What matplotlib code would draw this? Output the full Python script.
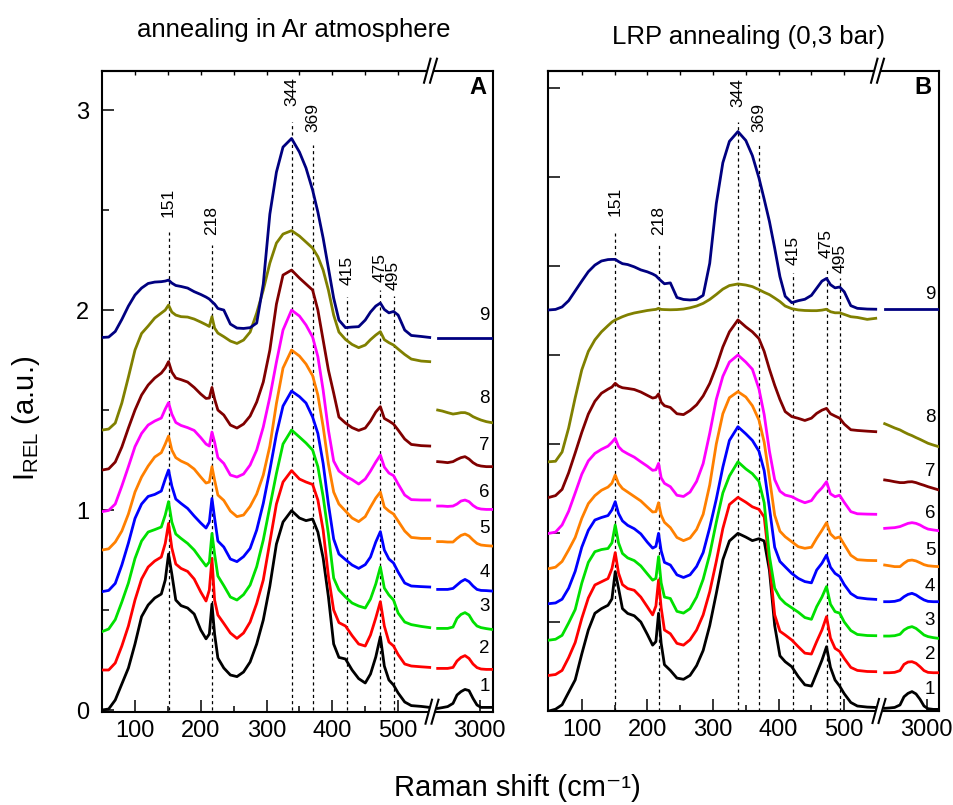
import numpy as np
import matplotlib
matplotlib.use("Agg")
import matplotlib.pyplot as plt
from matplotlib.lines import Line2D
from matplotlib.patches import Polygon
from matplotlib.ticker import NullLocator

# --- figure / style ---
FIG_W, FIG_H, DPI = 954, 805, 100
FONT = ["Liberation Sans", "DejaVu Sans"]

plt.rcParams.update({
    "font.family": FONT,
    "font.size": 17,
    "mathtext.fontset": "custom",
    "mathtext.rm": "Liberation Sans",
    "mathtext.it": "Liberation Sans:italic",
    "axes.linewidth": 1.5,
    "axes.unicode_minus": True,
})

COLORS = ["#000000", "#FF0000", "#00E000", "#0000FF", "#FF8000",
          "#FF00FF", "#800000", "#808000", "#000080"]

# --- data ---
# low-wavenumber part, Raman shift in cm-1
SHIFT = [50, 60, 70, 80, 90, 100, 110, 120, 130, 140, 146, 151, 156, 162, 170,
         180, 190, 200, 208, 213, 217, 221, 226, 235, 245, 255, 265, 275, 285,
         295, 305, 315, 325, 338, 350, 360, 370, 378, 386, 394, 402, 410, 420,
         430, 440, 450, 458, 466, 473, 479, 486, 493, 500, 510, 520, 535, 548]
# C-H region
SHIFT_CH = [2685, 2720, 2760, 2800, 2830, 2860, 2890, 2920, 2950, 2980, 3010, 3050, 3090]

# panel A: annealing in Ar
A1 = [0.0, 0.005, 0.05, 0.13, 0.21, 0.33, 0.467, 0.525, 0.56, 0.58, 0.65, 0.78, 0.68, 0.55, 0.522,
      0.51, 0.48, 0.40, 0.356, 0.38, 0.53, 0.38, 0.26, 0.21, 0.175, 0.167, 0.19, 0.24, 0.33,
      0.45, 0.62, 0.83, 0.94, 0.997, 0.96, 0.947, 0.955, 0.89, 0.76, 0.567, 0.33, 0.263, 0.255,
      0.20, 0.157, 0.135, 0.18, 0.265, 0.367, 0.22, 0.15, 0.125, 0.085, 0.04, 0.022, 0.018, 0.013]
A2 = [0.20, 0.20, 0.235, 0.32, 0.42, 0.55, 0.655, 0.715, 0.745, 0.765, 0.833, 0.933, 0.81, 0.73, 0.708,
      0.693, 0.655, 0.59, 0.545, 0.60, 0.758, 0.55, 0.475, 0.433, 0.385, 0.358, 0.385, 0.44, 0.533,
      0.65, 0.84, 1.03, 1.14, 1.197, 1.155, 1.14, 1.128, 1.05, 0.90, 0.67, 0.50, 0.437, 0.42,
      0.372, 0.33, 0.32, 0.375, 0.46, 0.542, 0.42, 0.34, 0.32, 0.277, 0.23, 0.22, 0.216, 0.213]
A3 = [0.392, 0.405, 0.452, 0.54, 0.635, 0.758, 0.845, 0.89, 0.902, 0.915, 0.975, 1.042, 0.94, 0.88, 0.858,
      0.833, 0.80, 0.755, 0.72, 0.74, 0.883, 0.78, 0.67, 0.622, 0.565, 0.55, 0.577, 0.625, 0.717,
      0.85, 1.017, 1.183, 1.33, 1.40, 1.365, 1.335, 1.30, 1.217, 1.067, 0.88, 0.66, 0.60, 0.565,
      0.535, 0.52, 0.51, 0.555, 0.63, 0.715, 0.61, 0.575, 0.55, 0.485, 0.44, 0.427, 0.418, 0.412]
A4 = [0.592, 0.598, 0.633, 0.725, 0.835, 0.958, 1.03, 1.068, 1.078, 1.095, 1.155, 1.20, 1.12, 1.055, 1.033,
      1.008, 0.97, 0.935, 0.91, 0.94, 1.058, 0.96, 0.845, 0.815, 0.755, 0.742, 0.767, 0.808, 0.90,
      1.033, 1.20, 1.38, 1.52, 1.595, 1.567, 1.535, 1.465, 1.383, 1.233, 1.03, 0.855, 0.78, 0.752,
      0.725, 0.708, 0.727, 0.765, 0.84, 0.892, 0.80, 0.755, 0.735, 0.69, 0.635, 0.62, 0.617, 0.615]
A5 = [0.80, 0.806, 0.84, 0.895, 0.98, 1.09, 1.165, 1.22, 1.265, 1.287, 1.33, 1.37, 1.30, 1.262, 1.245,
      1.23, 1.205, 1.165, 1.135, 1.14, 1.217, 1.15, 1.075, 1.048, 0.995, 0.967, 0.975, 1.018, 1.08,
      1.175, 1.32, 1.533, 1.71, 1.80, 1.77, 1.73, 1.672, 1.575, 1.417, 1.23, 1.09, 1.03, 0.995,
      0.96, 0.942, 0.967, 1.015, 1.06, 1.09, 1.015, 0.995, 0.98, 0.945, 0.895, 0.863, 0.858, 0.858]
A6 = [0.992, 0.998, 1.03, 1.12, 1.217, 1.317, 1.383, 1.425, 1.445, 1.46, 1.505, 1.537, 1.48, 1.438, 1.423,
      1.412, 1.398, 1.362, 1.33, 1.32, 1.39, 1.34, 1.262, 1.233, 1.175, 1.165, 1.18, 1.225, 1.30,
      1.415, 1.565, 1.74, 1.90, 2.0, 1.97, 1.925, 1.865, 1.767, 1.60, 1.40, 1.245, 1.195, 1.17,
      1.152, 1.13, 1.155, 1.195, 1.24, 1.275, 1.215, 1.185, 1.172, 1.13, 1.075, 1.052, 1.05, 1.05]
A7 = [1.20, 1.206, 1.24, 1.315, 1.41, 1.50, 1.575, 1.625, 1.66, 1.685, 1.71, 1.742, 1.69, 1.66, 1.652,
      1.64, 1.613, 1.58, 1.558, 1.56, 1.613, 1.555, 1.50, 1.475, 1.425, 1.41, 1.43, 1.47, 1.54,
      1.64, 1.80, 2.03, 2.175, 2.20, 2.16, 2.13, 2.10, 2.0, 1.85, 1.70, 1.585, 1.465, 1.435,
      1.412, 1.398, 1.41, 1.445, 1.49, 1.517, 1.458, 1.445, 1.43, 1.40, 1.355, 1.328, 1.322, 1.32]
A8 = [1.40, 1.405, 1.435, 1.535, 1.665, 1.80, 1.883, 1.92, 1.96, 1.985, 2.0, 2.025, 1.99, 1.975, 1.967,
      1.965, 1.955, 1.94, 1.927, 1.918, 1.967, 1.91, 1.885, 1.867, 1.845, 1.833, 1.85, 1.89, 1.985,
      2.10, 2.235, 2.335, 2.38, 2.397, 2.37, 2.34, 2.31, 2.267, 2.20, 2.10, 1.975, 1.89, 1.853,
      1.828, 1.812, 1.825, 1.852, 1.875, 1.892, 1.852, 1.837, 1.825, 1.805, 1.778, 1.755, 1.745, 1.742]
A9 = [1.863, 1.865, 1.893, 1.953, 2.02, 2.075, 2.11, 2.133, 2.14, 2.142, 2.145, 2.15, 2.135, 2.123, 2.118,
      2.11, 2.092, 2.078, 2.065, 2.055, 2.042, 2.03, 2.008, 2.00, 1.93, 1.91, 1.908, 1.912, 1.935,
      2.13, 2.48, 2.69, 2.815, 2.858, 2.79, 2.71, 2.60, 2.49, 2.36, 2.21, 2.06, 1.95, 1.912,
      1.915, 1.917, 1.95, 1.99, 2.02, 2.035, 2.003, 1.986, 1.993, 1.975, 1.90, 1.873, 1.868, 1.863]

A1_CH = [0.008, 0.012, 0.017, 0.033, 0.075, 0.092, 0.103, 0.097, 0.058, 0.025, 0.013, 0.013, 0.013]
A2_CH = [0.208, 0.208, 0.208, 0.213, 0.245, 0.263, 0.272, 0.258, 0.23, 0.212, 0.205, 0.203, 0.203]
A3_CH = [0.408, 0.408, 0.408, 0.415, 0.458, 0.478, 0.487, 0.475, 0.442, 0.42, 0.412, 0.407, 0.403]
A4_CH = [0.603, 0.603, 0.603, 0.608, 0.625, 0.642, 0.653, 0.642, 0.62, 0.603, 0.598, 0.597, 0.595]
A5_CH = [0.842, 0.842, 0.84, 0.84, 0.858, 0.873, 0.88, 0.87, 0.85, 0.833, 0.825, 0.822, 0.82]
A6_CH = [1.02, 1.02, 1.018, 1.02, 1.03, 1.045, 1.05, 1.042, 1.023, 1.01, 1.005, 1.003, 1.003]
A7_CH = [1.242, 1.24, 1.237, 1.242, 1.253, 1.262, 1.267, 1.255, 1.237, 1.225, 1.22, 1.217, 1.217]
A8_CH = [1.50, 1.495, 1.487, 1.48, 1.483, 1.487, 1.487, 1.48, 1.467, 1.458, 1.45, 1.442, 1.437]
A9_CH = [1.858, 1.858, 1.858, 1.858, 1.858, 1.858, 1.858, 1.858, 1.858, 1.858, 1.858, 1.858, 1.858]

# panel B: LRP annealing (0,3 bar)
B1 = [0.0, 0.01, 0.035, 0.105, 0.175, 0.32, 0.455, 0.549, 0.575, 0.594, 0.63, 0.783, 0.69, 0.575, 0.548,
      0.535, 0.50, 0.43, 0.37, 0.39, 0.549, 0.38, 0.26, 0.228, 0.185, 0.178, 0.20, 0.255, 0.34,
      0.48, 0.66, 0.85, 0.955, 0.998, 0.977, 0.957, 0.968, 0.955, 0.79, 0.48, 0.31, 0.277, 0.249,
      0.193, 0.147, 0.14, 0.212, 0.285, 0.361, 0.245, 0.174, 0.14, 0.097, 0.048, 0.028, 0.022, 0.02]
B2 = [0.20, 0.205, 0.228, 0.30, 0.385, 0.52, 0.635, 0.708, 0.726, 0.744, 0.80, 0.89, 0.775, 0.71, 0.688,
      0.678, 0.64, 0.585, 0.54, 0.59, 0.736, 0.58, 0.455, 0.434, 0.38, 0.37, 0.40, 0.455, 0.54,
      0.67, 0.84, 1.025, 1.16, 1.20, 1.173, 1.147, 1.133, 1.09, 0.83, 0.54, 0.448, 0.427, 0.399,
      0.361, 0.325, 0.32, 0.39, 0.455, 0.53, 0.41, 0.352, 0.335, 0.295, 0.245, 0.228, 0.222, 0.221]
B3 = [0.398, 0.403, 0.425, 0.495, 0.57, 0.718, 0.835, 0.895, 0.907, 0.913, 0.945, 1.045, 0.945, 0.885, 0.86,
      0.845, 0.815, 0.77, 0.735, 0.745, 0.867, 0.72, 0.64, 0.632, 0.56, 0.55, 0.575, 0.64, 0.74,
      0.88, 1.06, 1.225, 1.32, 1.40, 1.36, 1.333, 1.29, 1.17, 0.87, 0.69, 0.635, 0.605, 0.58,
      0.555, 0.525, 0.515, 0.586, 0.64, 0.699, 0.60, 0.558, 0.55, 0.50, 0.452, 0.43, 0.424, 0.423]
B4 = [0.603, 0.607, 0.628, 0.69, 0.785, 0.92, 1.015, 1.073, 1.087, 1.098, 1.13, 1.176, 1.11, 1.068, 1.043,
      1.024, 0.995, 0.948, 0.915, 0.925, 0.998, 0.90, 0.835, 0.82, 0.765, 0.75, 0.765, 0.812, 0.89,
      1.03, 1.19, 1.37, 1.52, 1.597, 1.557, 1.52, 1.46, 1.35, 1.14, 0.92, 0.84, 0.81, 0.773,
      0.745, 0.727, 0.72, 0.792, 0.83, 0.876, 0.808, 0.773, 0.756, 0.71, 0.66, 0.637, 0.63, 0.627]
B5 = [0.80, 0.808, 0.84, 0.905, 0.975, 1.082, 1.165, 1.21, 1.24, 1.258, 1.28, 1.326, 1.278, 1.25, 1.23,
      1.205, 1.18, 1.145, 1.118, 1.12, 1.17, 1.10, 1.06, 1.03, 0.975, 0.957, 0.972, 1.02, 1.105,
      1.27, 1.50, 1.67, 1.76, 1.794, 1.764, 1.715, 1.635, 1.51, 1.31, 1.10, 1.01, 0.979, 0.951,
      0.923, 0.914, 0.92, 0.97, 1.015, 1.058, 0.995, 0.97, 0.978, 0.935, 0.875, 0.85, 0.846, 0.845]
B6 = [0.998, 1.005, 1.045, 1.122, 1.225, 1.33, 1.405, 1.447, 1.47, 1.488, 1.51, 1.532, 1.485, 1.462, 1.445,
      1.426, 1.40, 1.375, 1.352, 1.355, 1.391, 1.31, 1.279, 1.26, 1.212, 1.205, 1.23, 1.29, 1.39,
      1.56, 1.75, 1.88, 1.96, 2.0, 1.96, 1.92, 1.81, 1.665, 1.46, 1.30, 1.235, 1.213, 1.204,
      1.185, 1.17, 1.182, 1.223, 1.253, 1.288, 1.22, 1.204, 1.212, 1.172, 1.12, 1.108, 1.106, 1.105]
B7 = [1.20, 1.21, 1.245, 1.338, 1.45, 1.565, 1.668, 1.74, 1.785, 1.808, 1.82, 1.841, 1.825, 1.816, 1.812,
      1.806, 1.792, 1.773, 1.758, 1.762, 1.781, 1.735, 1.715, 1.705, 1.67, 1.665, 1.688, 1.72, 1.77,
      1.84, 1.935, 2.045, 2.13, 2.197, 2.158, 2.13, 2.092, 2.02, 1.92, 1.83, 1.75, 1.682, 1.654,
      1.644, 1.632, 1.645, 1.672, 1.69, 1.70, 1.67, 1.657, 1.645, 1.612, 1.58, 1.576, 1.572, 1.569]
B8 = [1.40, 1.403, 1.455, 1.59, 1.76, 1.916, 2.02, 2.085, 2.13, 2.165, 2.185, 2.197, 2.205, 2.215, 2.226,
      2.236, 2.243, 2.25, 2.254, 2.256, 2.262, 2.256, 2.255, 2.254, 2.255, 2.258, 2.265, 2.275, 2.29,
      2.312, 2.34, 2.37, 2.39, 2.399, 2.393, 2.384, 2.367, 2.352, 2.339, 2.32, 2.30, 2.275, 2.26,
      2.253, 2.25, 2.249, 2.249, 2.252, 2.257, 2.243, 2.237, 2.237, 2.228, 2.215, 2.211, 2.20, 2.206]
B9 = [2.253, 2.256, 2.27, 2.305, 2.36, 2.415, 2.468, 2.505, 2.528, 2.536, 2.537, 2.537, 2.525, 2.513, 2.508,
      2.495, 2.478, 2.467, 2.455, 2.445, 2.43, 2.416, 2.40, 2.405, 2.323, 2.312, 2.309, 2.312, 2.335,
      2.515, 2.85, 3.08, 3.20, 3.255, 3.205, 3.12, 2.995, 2.875, 2.75, 2.60, 2.44, 2.33, 2.294,
      2.305, 2.313, 2.335, 2.375, 2.415, 2.43, 2.395, 2.377, 2.382, 2.355, 2.277, 2.262, 2.258, 2.257]

B1_CH = [0.015, 0.017, 0.02, 0.034, 0.08, 0.099, 0.109, 0.096, 0.066, 0.028, 0.013, 0.009, 0.009]
B2_CH = [0.215, 0.215, 0.217, 0.227, 0.262, 0.275, 0.277, 0.268, 0.249, 0.227, 0.217, 0.215, 0.215]
B3_CH = [0.421, 0.421, 0.423, 0.431, 0.455, 0.468, 0.474, 0.464, 0.446, 0.427, 0.418, 0.412, 0.408]
B4_CH = [0.614, 0.614, 0.616, 0.624, 0.642, 0.655, 0.661, 0.652, 0.637, 0.624, 0.616, 0.614, 0.614]
B5_CH = [0.82, 0.816, 0.811, 0.811, 0.83, 0.845, 0.848, 0.843, 0.833, 0.822, 0.816, 0.813, 0.811]
B6_CH = [1.026, 1.028, 1.03, 1.036, 1.045, 1.054, 1.058, 1.054, 1.045, 1.032, 1.022, 1.017, 1.013]
B7_CH = [1.298, 1.294, 1.288, 1.283, 1.283, 1.287, 1.288, 1.283, 1.275, 1.268, 1.26, 1.251, 1.242]
B8_CH = [1.614, 1.603, 1.59, 1.579, 1.567, 1.556, 1.547, 1.536, 1.526, 1.515, 1.504, 1.494, 1.485]
B9_CH = [2.257, 2.257, 2.257, 2.257, 2.257, 2.257, 2.257, 2.257, 2.257, 2.257, 2.257, 2.257, 2.257]

# marked bands: where the dashed line sits, its label, how high the line / label go
PEAK_X = [151, 217, 338, 370, 422, 473, 493]
PEAK_LABELS = ["151", "218", "344", "369", "415", "475", "495"]
A_LINE_TOP = [2.39, 2.325, 2.94, 2.825, 2.065, 2.10, 2.07]
A_LABEL_Y = [2.465, 2.375, 3.02, 2.89, 2.125, 2.14, 2.10]
B_LINE_TOP = [2.687, 2.618, 3.311, 3.18, 2.462, 2.478, 2.431]
B_LABEL_Y = [2.78, 2.674, 3.395, 3.255, 2.506, 2.543, 2.462]

CURVE_NAMES = ["1", "2", "3", "4", "5", "6", "7", "8", "9"]
A_NAME_Y = [0.117, 0.31, 0.517, 0.69, 0.91, 1.09, 1.325, 1.56, 1.975]
B_NAME_Y = [0.118, 0.315, 0.511, 0.698, 0.904, 1.11, 1.344, 1.646, 2.337]

A_LEFT = [A1, A2, A3, A4, A5, A6, A7, A8, A9]
A_RIGHT = [A1_CH, A2_CH, A3_CH, A4_CH, A5_CH, A6_CH, A7_CH, A8_CH, A9_CH]
B_LEFT = [B1, B2, B3, B4, B5, B6, B7, B8, B9]
B_RIGHT = [B1_CH, B2_CH, B3_CH, B4_CH, B5_CH, B6_CH, B7_CH, B8_CH, B9_CH]

LW = 2.0
PX = 72 / DPI   # one pixel in points


def px_box(x0, x1, y_top, y_bot):
    return [x0 / FIG_W, 1 - y_bot / FIG_H, (x1 - x0) / FIG_W, (y_bot - y_top) / FIG_H]


def draw_break(fig, xb, yb):
    """two slanted strokes '//' across a spine, given in figure pixels"""
    def f(x, y):
        return (x / FIG_W, 1 - y / FIG_H)
    s1 = [f(xb - 7.5, yb + 12), f(xb - 1.0, yb - 12)]
    s2 = [f(xb - 1.5, yb + 12), f(xb + 5.5, yb - 12)]
    fig.patches.append(Polygon([s1[0], s1[1], s2[1], s2[0]], closed=True,
                               facecolor="white", edgecolor="none",
                               transform=fig.transFigure, zorder=5))
    for s in (s1, s2):
        fig.lines.append(Line2D([s[0][0], s[1][0]], [s[0][1], s[1][1]], color="black",
                                lw=1.5, transform=fig.transFigure, zorder=6))


def plot_panel(fig, box_left, box_right, xlim_left, ylim, left_data, right_data,
               line_top, label_y, name_y, name_x, panel_tag, tag_x, show_ylabels):
    ax = fig.add_axes(box_left)
    axr = fig.add_axes(box_right)

    for i in range(len(left_data)):
        ax.plot(SHIFT, left_data[i], color=COLORS[i], lw=LW, zorder=3)
        axr.plot(SHIFT_CH, right_data[i], color=COLORS[i], lw=LW, zorder=3)
        axr.text(name_x, name_y[i], CURVE_NAMES[i], fontsize=13.5, ha="center", va="center")

    # dashed band markers and their labels
    for x, top, ly, lab in zip(PEAK_X, line_top, label_y, PEAK_LABELS):
        ax.plot([x, x], [0, top], color="black", lw=0.9, ls=(0, (2.5, 2.5)), zorder=2)
        ax.text(x, ly, lab, rotation=90, fontsize=12.5, ha="center", va="bottom")

    ax.set_xlim(*xlim_left)
    ax.set_ylim(*ylim)
    axr.set_ylim(*ylim)
    axr.set_xlim(2650, 2650 + (box_right[2] * FIG_W) * 7.5)

    ax.set_xticks([100, 200, 300, 400, 500])
    ax.set_xticks([150, 250, 350, 450], minor=True)
    ax.tick_params(axis="x", which="major", direction="in", length=12 * PX, width=1.1, pad=6)
    ax.tick_params(axis="x", which="minor", direction="in", length=6.5 * PX, width=1.1)

    # y ticks every 0.5; in panel A the half steps are short and unlabeled
    yt = np.arange(0, 3.6 if not show_ylabels else 3.1, 0.5)
    ax.set_yticks(yt)
    ax.yaxis.set_minor_locator(NullLocator())
    ax.yaxis.set_ticks_position("left")
    ax.tick_params(axis="y", which="major", direction="in", length=12 * PX, width=1.1, pad=9,
                   labelleft=show_ylabels)
    ticks = ax.yaxis.get_major_ticks()
    for tick in ticks:
        tick.tick2line.set_visible(False)
    if show_ylabels:
        ax.set_yticklabels([f"{v:g}" if v % 1 == 0 else "" for v in yt])
        for v, tick in zip(yt, ticks):
            if v % 1 != 0:
                tick.tick1line.set_markersize(6.5 * PX)

    top = ax.secondary_xaxis("top")
    top.set_xticks(np.arange(100, 550, 50))
    top.tick_params(axis="x", direction="in", length=3.5 * PX, width=1.0, labeltop=False)

    axr.set_xticks([3000])
    axr.xaxis.set_minor_locator(NullLocator())
    axr.tick_params(axis="x", direction="in", length=12 * PX, width=1.1, pad=6)
    axr.yaxis.set_visible(False)

    ax.spines["right"].set_visible(False)
    axr.spines["left"].set_visible(False)

    fig.text(tag_x / FIG_W, 1 - 87 / FIG_H, panel_tag,
             fontsize=17, fontweight="bold", ha="center", va="center")

    # break marks at the junction of the two x ranges
    xb = box_right[0] * FIG_W
    y_bot = (1 - box_left[1]) * FIG_H
    y_top = y_bot - box_left[3] * FIG_H
    draw_break(fig, xb, y_bot)
    draw_break(fig, xb - 1.5, y_top)
    return ax, axr


def main():
    fig = plt.figure(figsize=(FIG_W / DPI, FIG_H / DPI), dpi=DPI)

    plot_panel(fig, px_box(101.7, 433, 70.7, 711.7), px_box(433, 492.7, 70.7, 711.7),
               (49.4, 553), (-0.0085, 3.197), A_LEFT, A_RIGHT,
               A_LINE_TOP, A_LABEL_Y, A_NAME_Y, 3035, "A", 478, True)
    plot_panel(fig, px_box(548.3, 880, 70.7, 711), px_box(880, 939, 70.7, 711),
               (49, 554.5), (0, 3.597), B_LEFT, B_RIGHT,
               B_LINE_TOP, B_LABEL_Y, B_NAME_Y, 3025, "B", 923, False)

    fig.text(294 / FIG_W, 1 - 30 / FIG_H, "annealing in Ar atmosphere",
             fontsize=18.5, ha="center", va="center")
    fig.text(749 / FIG_W, 1 - 37 / FIG_H, "LRP annealing (0,3 bar)",
             fontsize=18.5, ha="center", va="center")
    fig.text(26 / FIG_W, 1 - 418 / FIG_H, r"I$_{\mathrm{REL}}$ (a.u.)",
             fontsize=21, rotation=90, ha="center", va="center")
    fig.text(517 / FIG_W, 1 - 788 / FIG_H, "Raman shift (cm\u207b\u00b9)",
             fontsize=21, ha="center", va="center")

    fig.savefig("out.png", dpi=DPI, facecolor="white")
    plt.close(fig)


if __name__ == "__main__":
    main()
